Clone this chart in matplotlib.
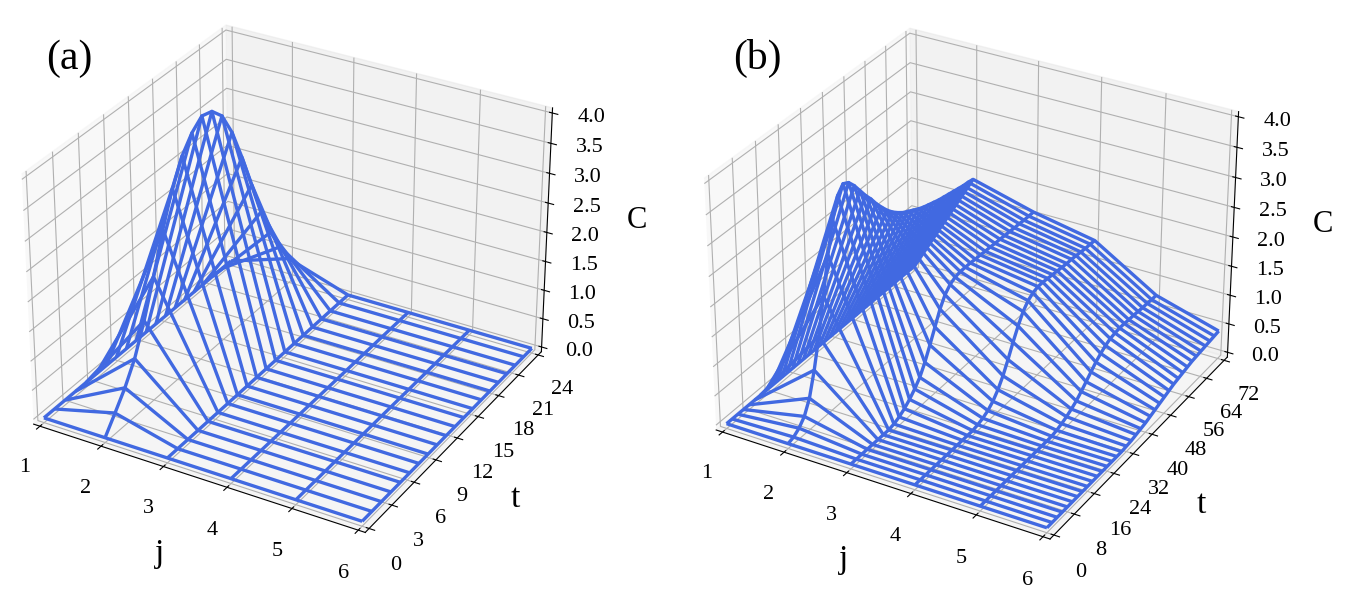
import numpy as np
import matplotlib.pyplot as plt

plt.rcParams['font.family'] = ['Liberation Serif', 'DejaVu Serif']

j_vals = [1, 2, 3, 4, 5, 6]

# panel (a): 20 time levels between 0 and 24
t_a = np.linspace(0, 24, 20)
c_a_j1 = [0] * 20
c_a_j2 = [0, 0.27, 0.55, 0.9, 1.4, 2.0, 2.65, 3.2, 3.6, 3.85,
          4.0, 3.95, 3.75, 3.35, 2.8, 2.2, 1.6, 1.1, 0.7, 0.35]
c_a_j3 = [0] * 20
c_a_j4 = [0] * 20
c_a_j5 = [0] * 20
c_a_j6 = [0] * 20

# panel (b): 37 time levels between 0 and 72
t_b = np.linspace(0, 72, 37)
c_b_j1 = [0] * 37
c_b_j2 = [0, 0.03, 0.1, 0.22, 0.45, 0.85, 1.35, 1.95, 2.55, 3.05,
          3.38, 3.5, 3.45, 3.33, 3.18, 3.03, 2.9, 2.75, 2.62, 2.5,
          2.4, 2.32, 2.25, 2.2, 2.15, 2.1, 2.06, 2.03, 2.0, 1.97,
          1.95, 1.93, 1.91, 1.89, 1.87, 1.86, 1.84]
c_b_j3 = [0, 0, 0, 0, 0, 0, 0, 0, 0.02, 0.06,
          0.12, 0.2, 0.3, 0.42, 0.6, 0.82, 1.05, 1.28, 1.45, 1.55,
          1.6, 1.62, 1.62, 1.62, 1.61, 1.61, 1.6, 1.6, 1.59, 1.59,
          1.58, 1.58, 1.57, 1.57, 1.56, 1.56, 1.56]
c_b_j4 = [0, 0, 0, 0, 0, 0, 0, 0, 0, 0,
          0, 0, 0.02, 0.05, 0.1, 0.18, 0.3, 0.46, 0.66, 0.88,
          1.08, 1.25, 1.36, 1.42, 1.45, 1.45, 1.44, 1.43, 1.42, 1.41,
          1.4, 1.4, 1.39, 1.38, 1.37, 1.37, 1.36]
c_b_j5 = [0, 0, 0, 0, 0, 0, 0, 0, 0, 0,
          0, 0, 0, 0, 0, 0.02, 0.05, 0.09, 0.14, 0.2,
          0.28, 0.37, 0.46, 0.55, 0.62, 0.68, 0.72, 0.74, 0.75, 0.75,
          0.74, 0.74, 0.73, 0.72, 0.72, 0.71, 0.71]
c_b_j6 = [0, 0, 0, 0, 0, 0, 0, 0, 0, 0,
          0, 0, 0, 0, 0, 0, 0.01, 0.02, 0.04, 0.06,
          0.08, 0.11, 0.14, 0.17, 0.2, 0.23, 0.26, 0.28, 0.3, 0.32,
          0.34, 0.35, 0.36, 0.37, 0.38, 0.39, 0.4]


def draw(ax, t, rows, tticks):
    J, T = np.meshgrid(j_vals, t)
    C = np.array(rows).T
    ax.plot_wireframe(J, T, C, color='royalblue', linewidth=2.4)
    # reproduce the classic 1/48 padding of 3D axes limits
    pad_j = 5 / 48
    pad_t = (t[-1] - t[0]) / 48
    pad_c = 4 / 48
    ax.set_xlim(1 - pad_j, 6 + pad_j)
    ax.set_ylim(t[0] - pad_t, t[-1] + pad_t)
    ax.set_zlim(0 - pad_c, 4 + pad_c)
    ax.set_xticks(j_vals)
    ax.set_yticks(tticks)
    zt = np.arange(0, 4.01, 0.5)
    ax.set_zticks(zt)
    ax.set_zticklabels([f'{v:.1f}' for v in zt])
    ax.tick_params(labelsize=16, pad=9)
    ax.set_xlabel('j', fontsize=24, labelpad=18)
    ax.set_ylabel('t', fontsize=24, labelpad=18)
    ax.set_zlabel('C', fontsize=22, labelpad=19)


fig = plt.figure(figsize=(13.48, 6.04), dpi=100)
ax1 = fig.add_axes([-0.0081, 0.0568, 0.4379, 0.9773], projection='3d')
ax2 = fig.add_axes([0.4980, 0.0455, 0.4409, 0.9839], projection='3d')

draw(ax1, t_a, [c_a_j1, c_a_j2, c_a_j3, c_a_j4, c_a_j5, c_a_j6], range(0, 25, 3))
draw(ax2, t_b, [c_b_j1, c_b_j2, c_b_j3, c_b_j4, c_b_j5, c_b_j6], range(0, 73, 8))

fig.text(0.034, 0.885, '(a)', fontsize=30)
fig.text(0.544, 0.885, '(b)', fontsize=30)

fig.savefig('out.png', dpi=100)
